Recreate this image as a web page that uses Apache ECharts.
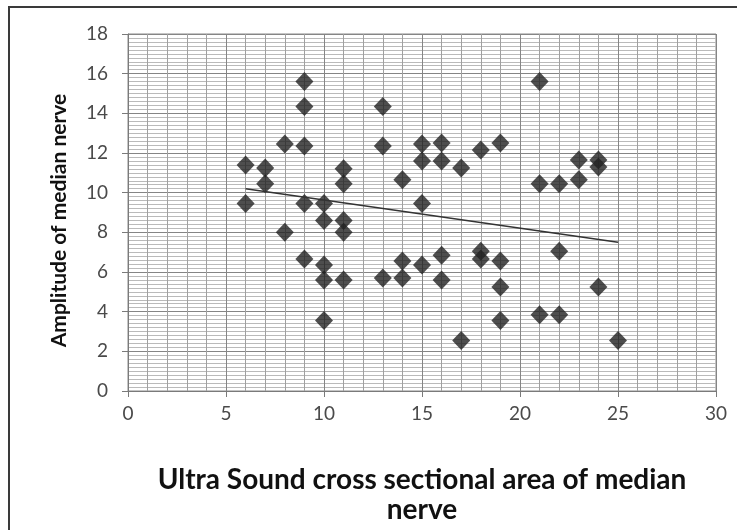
<!DOCTYPE html>
<html>
<head>
<meta charset="utf-8">
<script src="https://cdn.jsdelivr.net/npm/echarts@6/dist/echarts.min.js"></script>
<style>
html,body{margin:0;padding:0;background:#fff;}
#chart{width:745px;height:530px;}
</style>
</head>
<body>
<div id="chart"></div>
<script>
// Ultrasound cross-sectional area (x) vs amplitude of median nerve (y)
var areaX = [6, 6, 7, 7, 8, 8, 9, 9, 9, 9, 9, 10, 10, 10, 10, 10, 11, 11, 11, 11, 11,
  13, 13, 13, 14, 14, 14, 15, 15, 15, 15, 16, 16, 16, 16, 17, 17, 18, 18, 18,
  19, 19, 19, 19, 21, 21, 21, 22, 22, 22, 23, 23, 24, 24, 24, 25];
var amplitudeY = [11.4, 9.45, 11.25, 10.45, 12.45, 8.0, 15.6, 14.35, 12.35, 9.45, 6.65,
  9.45, 8.6, 6.35, 5.6, 3.55, 11.2, 10.45, 8.6, 8.0, 5.6,
  14.35, 12.35, 5.7, 10.65, 6.55, 5.7, 12.45, 11.6, 9.45, 6.35,
  12.5, 11.6, 6.85, 5.6, 11.25, 2.55, 12.15, 7.05, 6.65,
  12.5, 6.55, 5.25, 3.55, 15.6, 10.45, 3.85, 10.45, 7.05, 3.85,
  11.65, 10.65, 11.65, 11.3, 5.25, 2.55];
var trendX = [6, 25];
var trendY = [10.2, 7.5];
var xTicks = [0, 5, 10, 15, 20, 25, 30];
var yTicks = [0, 2, 4, 6, 8, 10, 12, 14, 16, 18];
var xTitle = 'Ultra Sound cross sectional area of median\nnerve';
var yTitle = 'Amplitude of median nerve';

var points = areaX.map(function (x, i) { return [x, amplitudeY[i]]; });
var trend = trendX.map(function (x, i) { return [x, trendY[i]]; });

var chart = echarts.init(document.getElementById('chart'), null, {renderer: 'canvas'});
var labelFont = 'Lato, "Open Sans", sans-serif';
chart.setOption({
  animation: false,
  backgroundColor: '#ffffff',
  grid: {left: 128, right: 29, top: 34, bottom: 139, show: true, borderColor: '#8a8a8a', borderWidth: 1},
  xAxis: {
    type: 'value', min: xTicks[0], max: xTicks[xTicks.length - 1], interval: 5,
    name: xTitle, nameLocation: 'middle', nameGap: 74,
    nameTextStyle: {fontFamily: labelFont, fontWeight: 'bold', fontSize: 28, color: '#111', lineHeight: 30},
    axisLine: {show: true, lineStyle: {color: '#7a7a7a', width: 1}},
    axisTick: {show: true, length: 6, lineStyle: {color: '#7a7a7a'}},
    axisLabel: {fontFamily: labelFont, fontSize: 19, color: '#4a4a4a', margin: 13},
    splitLine: {show: true, lineStyle: {color: '#858585', width: 1}},
    minorTick: {show: false, splitNumber: 5},
    minorSplitLine: {show: true, lineStyle: {color: '#a0a0a0', width: 1}}
  },
  yAxis: {
    type: 'value', min: yTicks[0], max: yTicks[yTicks.length - 1], interval: 2,
    name: yTitle, nameLocation: 'middle', nameGap: 58,
    nameTextStyle: {fontFamily: labelFont, fontWeight: 'bold', fontSize: 21, color: '#111', padding: [0, 16, 0, 0]},
    axisLine: {show: true, lineStyle: {color: '#7a7a7a', width: 1}},
    axisTick: {show: true, length: 6, lineStyle: {color: '#7a7a7a'}},
    axisLabel: {fontFamily: labelFont, fontSize: 19, color: '#4a4a4a', margin: 20},
    splitLine: {show: true, lineStyle: {color: '#858585', width: 1}},
    minorTick: {show: false, splitNumber: 10},
    minorSplitLine: {show: true, lineStyle: {color: '#bababa', width: 1}}
  },
  series: [
    {
      type: 'scatter', data: points, symbol: 'diamond', symbolSize: [18, 19],
      itemStyle: {color: '#222'}, z: 3
    },
    {
      type: 'line', data: trend, symbol: 'none', lineStyle: {color: '#333', width: 1.5}, z: 4
    }
  ],
  graphic: [
    {type: 'polyline', shape: {points: [[9, 535], [9, 7], [737, 7]]}, style: {stroke: '#3a3a3a', lineWidth: 2, fill: null}, z: 10}
  ]
});
</script>
</body>
</html>
